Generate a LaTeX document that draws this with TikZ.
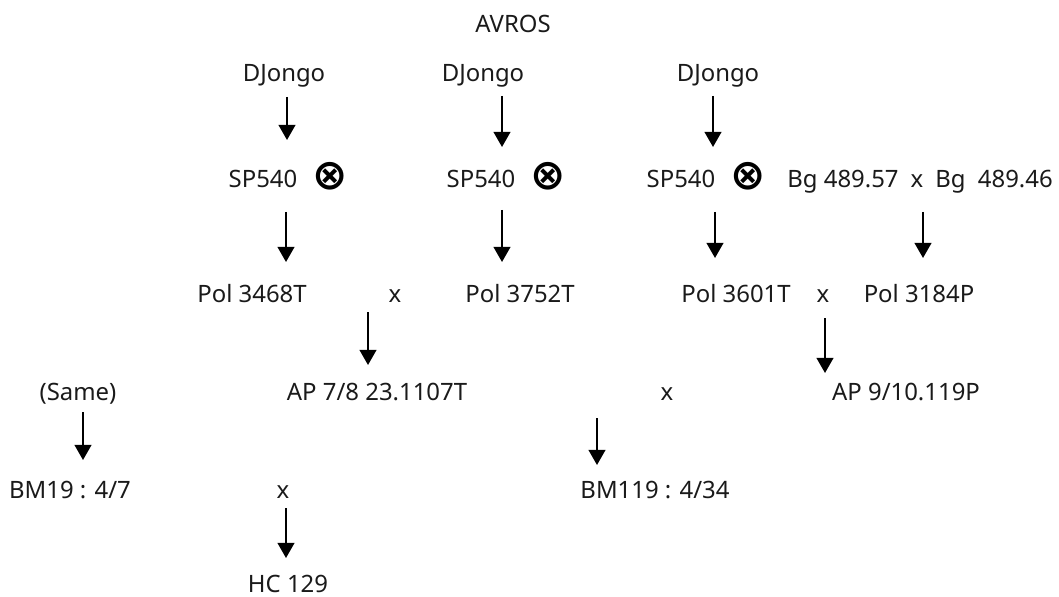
\documentclass[tikz,border=0pt]{standalone}
\usepackage{fontspec}
\setmainfont{Noto Sans}
\newfontfamily\symfont{DejaVu Sans}
\usepackage{xcolor}
\definecolor{cText}{HTML}{1A1A1A}
\usetikzlibrary{arrows.meta}
\tikzset{
  label-txt/.style={anchor=base,inner sep=0pt,text=cText,
    font=\fontsize{17}{20}\selectfont},
  cross-sym/.style={inner sep=0pt,font=\symfont\bfseries\fontsize{30}{34}\selectfont},
  arrow/.style={-{Triangle[width=4.2mm,length=3.8mm]},line width=1.5pt,draw=black},
}

\begin{document}
\begin{tikzpicture}[x=0.025cm,y=-0.025cm]
  \useasboundingbox (0,0) rectangle (1059,597);
  % top
  \node[label-txt] (avros) at (513,33) {AVROS};
  \node[label-txt] (dj1) at (284,82) {DJongo};
  \node[label-txt] (dj2) at (483,82) {DJongo};
  \node[label-txt] (dj3) at (718,82) {DJongo};
  % SP540 row
  \node[label-txt] (sp1) at (263,188) {SP540};
  \node[label-txt] (sp2) at (481,188) {SP540};
  \node[label-txt] (sp3) at (681,188) {SP540};
  \node[cross-sym] (ox1) at (330,176) {⊗};
  \node[cross-sym] (ox2) at (548,176) {⊗};
  \node[cross-sym] (ox3) at (748,176) {⊗};
  \node[label-txt] (bg1) at (843,188) {Bg 489.57};
  \node[label-txt] (xbg) at (917,188) {x};
  \node[label-txt] (bg2) at (994,188) {Bg~~489.46};
  % Pol row
  \node[label-txt] (pol1) at (252,302) {Pol 3468T};
  \node[label-txt] (xpol1) at (395,302) {x};
  \node[label-txt] (pol2) at (520,302) {Pol 3752T};
  \node[label-txt] (pol3) at (736,302) {Pol 3601T};
  \node[label-txt] (xpol2) at (823,302) {x};
  \node[label-txt] (pol4) at (919,302) {Pol 3184P};
  % AP row
  \node[label-txt] (same) at (78,400) {(Same)};
  \node[label-txt] (ap1) at (377,400) {AP 7/8 23.1107T};
  \node[label-txt] (xap) at (667,400) {x};
  \node[label-txt] (ap2) at (906,400) {AP 9/10.119P};
  % BM row
  \node[label-txt] (bm1) at (70,498) {BM19 : 4/7};
  \node[label-txt] (xbm) at (283,498) {x};
  \node[label-txt] (bm2) at (655,498) {BM119 : 4/34};
  \node[label-txt] (hc) at (288,592) {HC 129};
  % arrows
  \foreach \n/\x/\ya/\yb in {a1/287/97/140, a2/502/96/147, a3/713/96/147,
      b1/286/212/262, b2/502/210/262, b3/715/212/258, b4/923/212/258,
      c1/368/312/365, c2/825/318/373, d1/83/412/460, d2/597/418/465,
      e1/286/508/558} {
    \coordinate (\n-s) at (\x,\ya);
    \coordinate (\n-e) at (\x,\yb);
    \draw[arrow] (\n-s) -- (\n-e);
  }
\end{tikzpicture}
\end{document}
